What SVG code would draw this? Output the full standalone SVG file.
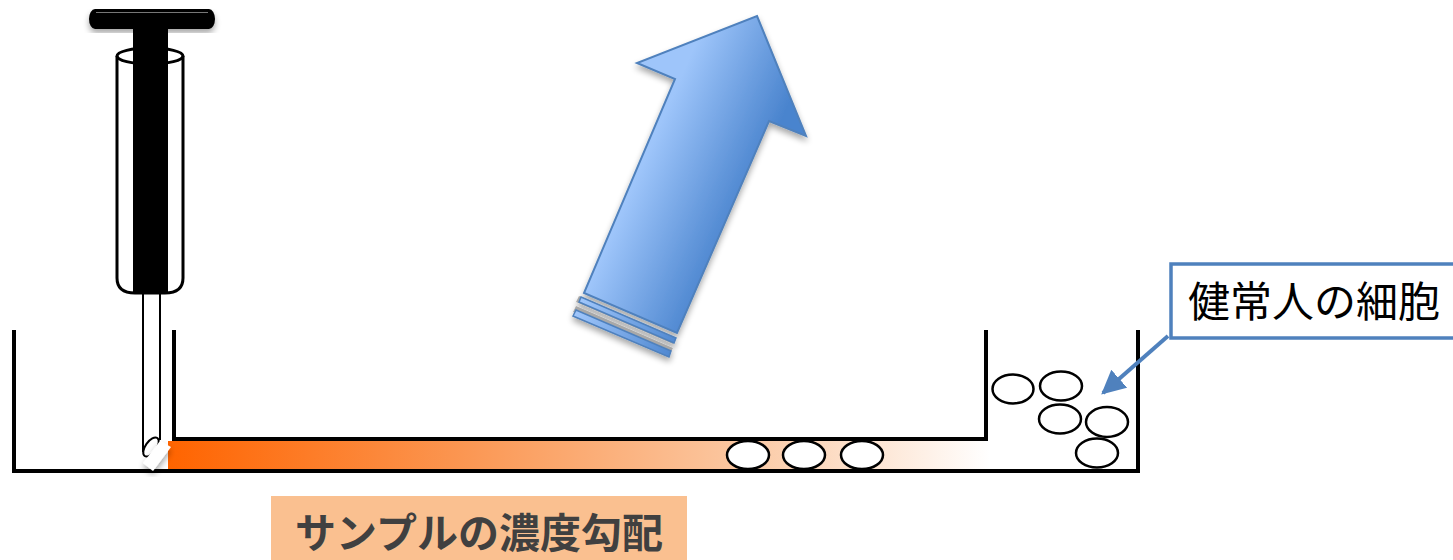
<svg xmlns="http://www.w3.org/2000/svg" width="1453" height="560" viewBox="0 0 1453 560">
  <defs>
    <linearGradient id="conc" x1="0" y1="0" x2="1" y2="0">
      <stop offset="0" stop-color="#FF6400"/>
      <stop offset="0.35" stop-color="#FB9550"/>
      <stop offset="0.7" stop-color="#FBC8A2"/>
      <stop offset="1" stop-color="#FFFFFF"/>
    </linearGradient>
    <linearGradient id="arrowFill" gradientUnits="userSpaceOnUse" x1="640" y1="170" x2="740" y2="214">
      <stop offset="0" stop-color="#9EC5FA"/>
      <stop offset="1" stop-color="#4A84CE"/>
    </linearGradient>
    <filter id="shadow" x="-20%" y="-20%" width="140%" height="140%">
      <feGaussianBlur in="SourceAlpha" stdDeviation="3"/>
      <feOffset dx="0" dy="4" result="b"/>
      <feComponentTransfer><feFuncA type="linear" slope="0.35"/></feComponentTransfer>
      <feMerge><feMergeNode/><feMergeNode in="SourceGraphic"/></feMerge>
    </filter>
    <marker id="head" viewBox="0 0 10 10" refX="9" refY="5" markerWidth="6" markerHeight="6" orient="auto" markerUnits="strokeWidth">
      <path d="M0,0 L10,5 L0,10 z" fill="#4F81BD"/>
    </marker>
    <style>
      .wall { fill: none; stroke: #000; stroke-width: 4; stroke-linejoin: miter; }
      .cell { fill: #fff; stroke: #000; stroke-width: 2.5; }
      .jp { font-family: "Noto Sans CJK JP", "Noto Sans CJK SC", sans-serif; }
    </style>
  </defs>

  <!-- sample concentration gradient in the channel -->
  <g id="gradient-band">
    <rect x="168" y="441" width="822" height="29" fill="url(#conc)"/>
  </g>

  <!-- chamber walls -->
  <g id="chamber">
    <path class="wall" d="M14,330 V471 H1138 V330"/>
    <path class="wall" d="M174,330 V439 H986 V330"/>
  </g>

  <!-- cells in channel -->
  <g id="channel-cells">
    <ellipse class="cell" cx="748" cy="455" rx="21" ry="14"/>
    <ellipse class="cell" cx="804" cy="455" rx="21" ry="14"/>
    <ellipse class="cell" cx="862" cy="455" rx="21" ry="14"/>
  </g>

  <!-- healthy cells in right well -->
  <g id="well-cells">
    <ellipse class="cell" cx="1013" cy="389" rx="20.5" ry="14.5"/>
    <ellipse class="cell" cx="1061" cy="386" rx="21" ry="14.5"/>
    <ellipse class="cell" cx="1060" cy="419" rx="21" ry="14.5"/>
    <ellipse class="cell" cx="1107" cy="422" rx="21" ry="15"/>
    <ellipse class="cell" cx="1097" cy="453" rx="21" ry="14.5"/>
  </g>

  <!-- syringe -->
  <g id="syringe">
    <!-- needle -->
    <rect x="143" y="292" width="17" height="160" fill="#fff"/>
    <line x1="143" y1="292" x2="143" y2="452" stroke="#000" stroke-width="2"/>
    <line x1="160" y1="292" x2="160" y2="440" stroke="#000" stroke-width="2"/>
    <ellipse cx="151" cy="447" rx="5.5" ry="11" transform="rotate(35 151 447)" fill="#fff" stroke="#000" stroke-width="2"/>
    <polygon points="160,441 171,447 153,471 143,463" fill="#fff" filter="url(#shadow)"/>
    <!-- barrel -->
    <path d="M117,56 V278 Q117,293 135,293 H165 Q183,293 183,278 V56" fill="#fff" stroke="#000" stroke-width="3"/>
    <ellipse cx="150" cy="56" rx="33" ry="8" fill="none" stroke="#000" stroke-width="3"/>
    <!-- plunger rod -->
    <path d="M133,26 H168 V293 H133 Z" fill="#000"/>
    <!-- plunger head -->
    <rect x="89" y="9" width="126" height="20" rx="6" ry="10" fill="#000" filter="url(#shadow)"/>
    <line x1="96" y1="12.5" x2="208" y2="12.5" stroke="#777" stroke-width="1"/>
  </g>

  <!-- upward arrow -->
  <g id="up-arrow" filter="url(#shadow)">
    <polygon points="579,296 676,338 673,344 576,302" fill="#A8A8A8"/>
    <polygon points="576,306 673,348 670,354 573,312" fill="#A8A8A8"/>
    <polygon points="581,297 676,338 674,343 579,302" fill="url(#arrowFill)" stroke="#4F81BD" stroke-width="1.5"/>
    <polygon points="576,310 671,351 669,357 573,316" fill="url(#arrowFill)" stroke="#4F81BD" stroke-width="1.5"/>
    <polygon points="757,16 806,136 769,121 677,333 584,293 675,79 637,63" fill="url(#arrowFill)" stroke="#4F81BD" stroke-width="2" stroke-linejoin="miter"/>
  </g>

  <!-- callout connector -->
  <g id="connectors">
    <line x1="1168" y1="336" x2="1103" y2="393" stroke="#4F81BD" stroke-width="4" marker-end="url(#head)"/>
  </g>

  <!-- callout label -->
  <g id="healthy-label">
    <rect x="1171" y="264" width="300" height="74" fill="#fff" stroke="#4F81BD" stroke-width="3.5"/>
    <text class="jp" x="1188" y="317" font-size="42" fill="#000">健常人の細胞</text>
  </g>

  <!-- gradient caption -->
  <g id="gradient-label">
    <rect x="271" y="496" width="416" height="64" fill="#FAC090"/>
    <text class="jp" x="479" y="548" font-size="41" font-weight="bold" fill="#404040" text-anchor="middle">サンプルの濃度勾配</text>
  </g>
</svg>
